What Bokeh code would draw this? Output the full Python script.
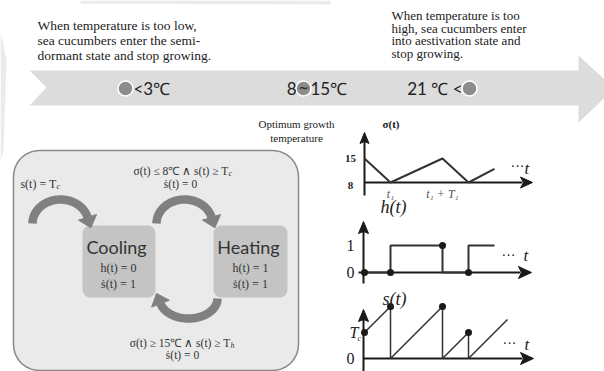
import numpy as np
from bokeh.plotting import figure
from bokeh.models import Range1d, ColumnDataSource
from bokeh.core.properties import value
from bokeh.embed import file_html
from bokeh.resources import INLINE

# ---------------- data ----------------
left_note = ["When temperature is too low,", "sea cucumbers enter the semi-", "dormant state and stop growing."]
right_note = ["When temperature is too", "high, sea cucumbers enter", "into aestivation state and", "stop growing."]
optimum_note = ["Optimum growth", "temperature"]
temp_low = "<3℃"
temp_opt_lo = "8"
temp_opt_hi = "15℃"
temp_high = "21 ℃ <"

state_names = ["Cooling", "Heating"]
state_h = ["h(t) = 0", "h(t) = 1"]
state_sdot = ["ṡ(t) = 1", "ṡ(t) = 1"]
init_cond = "s(t) = T"
cond_to_heat = ["σ(t) ≤ 8℃ ∧ s(t) ≥ T", "ṡ(t) = 0"]
cond_to_cool = ["σ(t) ≥ 15℃ ∧ s(t) ≥ T", "ṡ(t) = 0"]

sigma_t = [0, 1, 3, 4, 5]
sigma_v = [15, 8, 15, 8, 12]
sigma_ticks = [15, 8]
sigma_tick_labels = ["15", "8"]
t_ticks = [1, 3]
t_tick_labels = ["t₁", "t₁ + T₁"]

h_t = [0, 1, 1, 3, 3, 4, 4, 5]
h_v = [0, 0, 1, 1, 0, 0, 1, 1]
h_dot_t = [0, 1, 3, 4]
h_dot_v = [0, 0, 1, 0]
h_ticks = [1, 0]
h_tick_labels = ["1", "0"]

s_t = [0, 1, 1, 3, 3, 4, 4, 5.5]
s_v = [1, 2, 0, 2, 0, 1, 0, 1.5]
s_dot_t = [0, 1, 3, 4]
s_dot_v = [1, 2, 2, 1]
s_ticks = [1, 0]
s_tick_labels = ["T", "0"]

# ---------------- layout helpers ----------------
FX0, FX1, FY0, FY1 = 0, 604, 0, 371
SERIF = "Liberation Serif"
SANS = "Lato"

p = figure(width=FX1 - FX0, height=FY1 - FY0, x_range=Range1d(FX0, FX1), y_range=Range1d(FY1, FY0),
           x_axis_type=None, y_axis_type=None, output_backend="svg", toolbar_location=None,
           min_border=0, background_fill_color="white", border_fill_color="white")
p.outline_line_color = None


def xrange_for(v0, px0, v1, px1):
    k = (px1 - px0) / (v1 - v0)
    return Range1d(v0 + (FX0 - px0) / k, v0 + (FX1 - px0) / k)


def yrange_for(v0, py0, v1, py1):
    k = (py0 - py1) / (v1 - v0)
    return Range1d(v0 - (FY1 - py0) / k, v0 + (py0 - FY0) / k)


p.extra_x_ranges = {"t": xrange_for(0, 364, 1, 390)}
p.extra_y_ranges = {"sig": yrange_for(8, 182, 15, 158),
                    "h": yrange_for(0, 272, 1, 245),
                    "s": yrange_for(0, 358, 1, 332)}


def rounded_rect(x0, y0, x1, y1, r, n=10):
    xs, ys = [], []
    for cx, cy, a0, a1 in [(x1 - r, y0 + r, 90, 0), (x1 - r, y1 - r, 0, -90),
                           (x0 + r, y1 - r, -90, -180), (x0 + r, y0 + r, 180, 90)]:
        th = np.radians(np.linspace(a0, a1, n))
        xs += list(cx + r * np.cos(th))
        ys += list(cy - r * np.sin(th))
    return xs, ys


def head(ex, ey, dx, dy, length, half_w, notch=0.0):
    n = np.hypot(dx, dy)
    dx, dy = dx / n, dy / n
    nx, ny = -dy, dx
    tipx, tipy = ex + dx * length, ey + dy * length
    return ([tipx, ex + nx * half_w, ex + dx * notch, ex - nx * half_w],
            [tipy, ey + ny * half_w, ey + dy * notch, ey - ny * half_w])


def arc_arrow(cx, cy, rx, ry, a0, a1, color="#808080", width=8.5):
    th = np.radians(np.linspace(a0, a1, 50))
    xs = cx + rx * np.cos(th)
    ys = cy - ry * np.sin(th)
    p.line(xs, ys, line_color=color, line_width=width, line_cap="butt")
    d = np.sign(a1 - a0)
    te = th[-1]
    dx, dy = -rx * np.sin(te) * d, -ry * np.cos(te) * d
    hx, hy = head(xs[-1], ys[-1], dx, dy, 11, 9.5)
    p.patch(hx, hy, fill_color=color, line_color=color)


texts = []


def T(text, x, y, size, font=SERIF, style="normal", color="#222222", align="left", baseline="middle"):
    texts.append(dict(text=text, x=x, y=y, size=f"{size}px", font=font, style=style, color=color,
                      align=align, baseline=baseline))


# ---------------- faint page shading ----------------
p.patch([80, 250, 330, 330, 80], [0, 0, 0, 4, 3], fill_color="#d8d8d8", fill_alpha=0.5, line_color=None)
p.patch([0, 6, 3, 0], [30, 60, 150, 160], fill_color="#d8d8d8", fill_alpha=0.5, line_color=None)

# ---------------- top band ----------------
p.patch([29, 578, 578, 614, 578, 578, 29, 46], [70, 70, 55, 88, 122, 105, 105, 87],
        fill_color="#dcdcdc", line_color=None)
p.scatter([125, 303, 469], [88, 88, 88], size=15, fill_color="#8c8c8c", line_color="white", line_width=1.5)
T("~", 303, 87, 13, font="DejaVu Sans", style="bold", color="#333333", align="center")
T(temp_low, 133, 88, 17, font=SANS, align="left")
T(temp_opt_lo, 296, 88, 17, font=SANS, align="right")
T(temp_opt_hi, 310, 88, 17, font=SANS, align="left")
T(temp_high, 462, 88, 17, font=SANS, align="right")

for i, line in enumerate(left_note):
    T(line, 37, 25 + 15 * i, 13.5)
for i, line in enumerate(right_note):
    T(line, 391, 15 + 12.7 * i, 13)
for i, line in enumerate(optimum_note):
    T(line, 296, 123 + 14 * i, 11, align="center")

# ---------------- state diagram ----------------
bx, by = rounded_rect(13, 150, 298, 370, 26)
p.patch(bx, by, fill_color="#eaeaea", line_color="#8a8a8a", line_width=1.5)
for x0, x1 in [(82, 155), (213, 287)]:
    rx, ry = rounded_rect(x0, 225, x1, 297, 8)
    p.patch(rx, ry, fill_color="#c4c4c4", line_color=None)

arc_arrow(60, 223, 28, 24, 180, 15)
arc_arrow(184, 223, 28, 24, 180, 15)
arc_arrow(188, 298, 29, 20, 0, -165)

for i, (cx) in enumerate([116, 248]):
    T(state_names[i], cx, 246, 18, font=SANS, color="#333333", align="center")
    T(state_h[i], cx + 2, 267, 12, color="#333333", align="center")
    T(state_sdot[i], cx + 2, 283, 12, color="#333333", align="center")

T(init_cond, 56, 183, 12, color="#333333", align="right")
T("c", 56, 186, 8, color="#333333", style="italic")
T(cond_to_heat[0], 228, 170, 11.5, color="#333333", align="right")
T("c", 228, 173, 8, color="#333333", style="italic")
T(cond_to_heat[1], 180, 183, 11.5, color="#333333", align="center")
T(cond_to_cool[0], 230, 342, 11.5, color="#333333", align="right")
T("h", 230, 345, 8, color="#333333", style="italic")
T(cond_to_cool[1], 182, 354, 11.5, color="#333333", align="center")

# ---------------- sigma(t) plot ----------------
AX = "#1a1a1a"
p.line([364, 364], [195, 140], line_color=AX, line_width=2)
hx, hy = head(364, 143, 0, -1, 11, 4.5, 2)
p.patch(hx, hy, fill_color=AX, line_color=AX)
p.line([364, 522], [182, 182], line_color=AX, line_width=1.8)
hx, hy = head(520, 182, 1, 0, 12, 5.5, 3)
p.patch(hx, hy, fill_color=AX, line_color=AX)
p.line(sigma_t, sigma_v, x_range_name="t", y_range_name="sig", line_color="#333333", line_width=2)
T("σ(t)", 382, 123, 11, style="bold")
T("···", 510, 166, 14)
T("t", 524, 168, 17, style="italic")

# ---------------- h(t) plot ----------------
p.line([363, 363], [283, 230], line_color=AX, line_width=2)
hx, hy = head(363, 233, 0, -1, 12, 5, 2)
p.patch(hx, hy, fill_color=AX, line_color=AX)
p.line([358, 520], [272, 272], line_color=AX, line_width=2)
hx, hy = head(518, 272, 1, 0, 13, 6, 3)
p.patch(hx, hy, fill_color=AX, line_color=AX)
p.line(h_t, h_v, x_range_name="t", y_range_name="h", line_color="#333333", line_width=2)
p.scatter(h_dot_t, h_dot_v, x_range_name="t", y_range_name="h", size=7, fill_color="#1a1a1a", line_color=None)
T("h(t)", 380, 206, 18, style="italic")
T("···", 501, 255, 14)
T("t", 523, 255, 17, style="italic")

# ---------------- s(t) plot ----------------
p.line([363, 363], [372, 318], line_color=AX, line_width=2)
hx, hy = head(363, 321, 0, -1, 12, 5, 2)
p.patch(hx, hy, fill_color=AX, line_color=AX)
p.line([363, 522], [358, 358], line_color=AX, line_width=2)
hx, hy = head(520, 358, 1, 0, 13, 6, 3)
p.patch(hx, hy, fill_color=AX, line_color=AX)
p.line(s_t, s_v, x_range_name="t", y_range_name="s", line_color="#333333", line_width=1.5)
p.scatter(s_dot_t, s_dot_v, x_range_name="t", y_range_name="s", size=7, fill_color="#1a1a1a", line_color=None)
T("s(t)", 382, 298, 18, style="italic")
T("···", 502, 343, 14)
T("t", 524, 344, 17, style="italic")
T("c", 357, 338, 8, style="italic")

src = ColumnDataSource({k: [d[k] for d in texts] for k in texts[0]})
p.text(x="x", y="y", text="text", text_font="font", text_font_size="size", text_font_style="style",
       text_color="color", text_align="align", text_baseline="baseline", source=src)

# tick labels driven by data, through the subplot scales
p.text(x=[350] * 2, y=sigma_ticks, text=sigma_tick_labels, y_range_name="sig", text_font=value(SERIF),
       text_font_size="11px", text_font_style="bold", text_align="center", text_baseline="middle",
       text_color="#222222", y_offset=[0, 3])
p.text(x=t_ticks, y=[193] * 2, text=t_tick_labels, x_range_name="t", text_font=value(SERIF),
       text_font_size="12px", text_font_style="italic", text_align="center", text_baseline="middle",
       text_color="#555555")
p.text(x=[350] * 2, y=h_ticks, text=h_tick_labels, y_range_name="h", text_font=value(SERIF),
       text_font_size="16px", text_align="center", text_baseline="middle", text_color="#222222")
p.text(x=[358, 350], y=s_ticks, text=s_tick_labels, y_range_name="s", text_font=value(SERIF),
       text_font_size="16px", text_font_style=["italic", "normal"], text_align=["right", "center"],
       text_baseline="middle", text_color="#222222")

open("out.html", "w").write(file_html(p, INLINE))
